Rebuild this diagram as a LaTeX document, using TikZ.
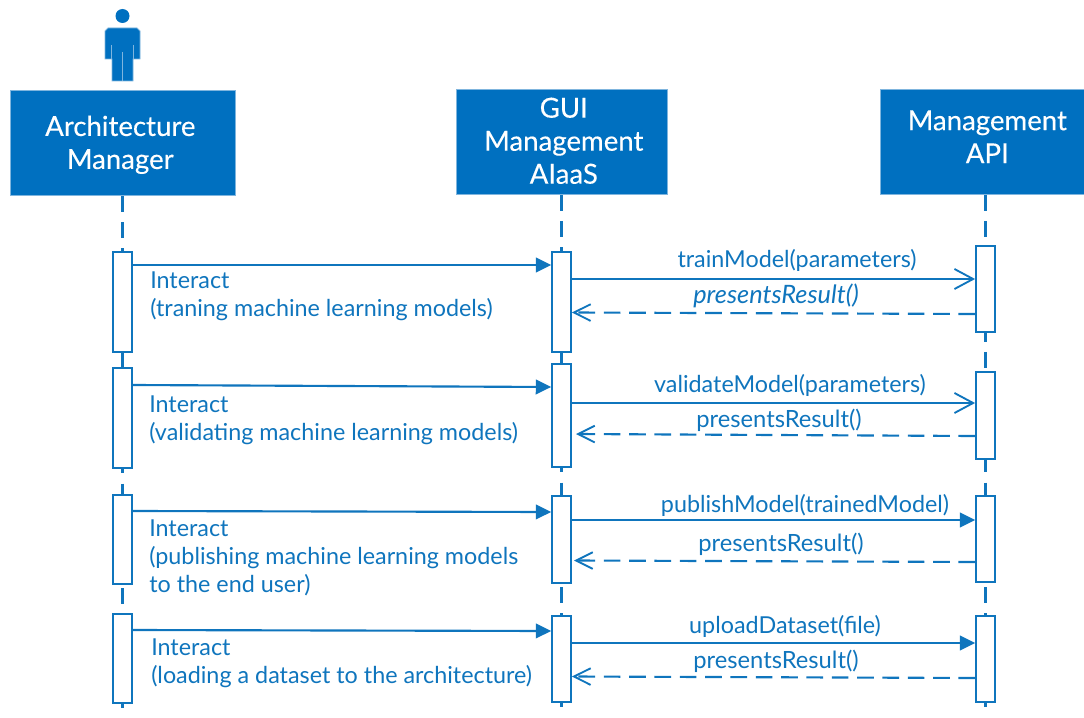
\documentclass[tikz,border=0pt]{standalone}
\usepackage{fontspec}
\setmainfont{Lato}
\usetikzlibrary{arrows.meta}
\definecolor{umlblue}{HTML}{0070C0}
\definecolor{umledge}{HTML}{7FB5DE}
\definecolor{bar}{HTML}{0F75BD}
\tikzset{
  x=0.75pt,y=-0.75pt,
  header/.style={draw=umledge,fill=umlblue,line width=1.2pt,inner sep=0pt,anchor=north west},
  headtext/.style={text=white,align=center,inner sep=0pt,font=\fontsize{20.7}{24.75}\selectfont\addfontfeature{FakeBold=0.25}},
  activation/.style={draw=bar,fill=white,line width=1.6pt,minimum width=14pt,inner sep=0pt,anchor=north},
  lifeline/.style={draw=bar,line width=1.6pt,dash pattern=on 11.8pt off 7.8pt},
  msg/.style={draw=bar,line width=1.6pt},
  openhead/.style={-{Straight Barb[length=14pt,width=15pt,line width=1.4pt]}},
  openback/.style={-{Straight Barb[length=12.5pt,width=12.5pt,line width=1.4pt]},dash pattern=on 12.5pt off 6.5pt},
  solidhead/.style={-{Triangle[length=11.5pt,width=11pt]}},
  msgtext/.style={text=bar,font=\fontsize{17.5}{21}\selectfont,inner sep=0pt,anchor=base},
  restext/.style={text=bar,font=\fontsize{17.8}{21}\selectfont,inner sep=0pt,anchor=base},
  italtext/.style={text=bar,font=\fontsize{19}{21}\selectfont\itshape,inner sep=0pt,anchor=base},
  notetext/.style={text=bar,font=\fontsize{17.5}{21}\selectfont,inner sep=0pt,align=left,anchor=north west},
}
\begin{document}
\begin{tikzpicture}
\useasboundingbox (0,0) rectangle (1084,717);
% headers
\node[header,minimum width=168.75pt,minimum height=78.75pt] (arch) at (9.5,89.5) {};
\node[header,minimum width=158.25pt,minimum height=78.75pt] (gui) at (455.5,88.5) {};
\node[header,minimum width=153pt,minimum height=78.75pt] (api) at (879.5,88.5) {};
\node[headtext] (archT) at ([shift={(-2.5,2)}]arch.center) {Architecture\\Manager};
\node[headtext] (guiT) at ([shift={(2,-1)}]gui.center) {GUI\\Management\\AIaaS};
\node[headtext] (apiT) at ([shift={(5,-5)}]api.center) {Management\\API};
% lifeline ends
\coordinate (archEnd) at (122.5,717);
\coordinate (guiEnd) at (561.5,717);
\coordinate (apiEnd) at (985.5,717);
\draw[lifeline] (arch.south -| archEnd) -- (archEnd);
\draw[lifeline] (gui.south -| guiEnd) -- (guiEnd);
\draw[lifeline] (api.south -| apiEnd) -- (apiEnd);
% person
\fill[umlblue] (122.5,16) circle[radius=7];
\fill[umlblue,draw=umledge,line width=0.6pt] (108,28) -- (137,28) -- (140,31) -- (140,59) -- (133,59) -- (133,81) -- (112,81) -- (112,59) -- (105,59) -- (105,31) -- cycle;
\draw[umledge,line width=1.2pt] (111.5,45) -- (111.5,59) (133.5,45) -- (133.5,59) (122.5,52) -- (122.5,81);
% activations
\node[activation,minimum height=75pt] (a1) at (122.5,251) {};
\node[activation,minimum height=75pt] (a2) at (122.5,367) {};
\node[activation,minimum height=66.75pt] (a3) at (122.5,494) {};
\node[activation,minimum height=66.75pt] (a4) at (122.5,613) {};
\node[activation,minimum height=75pt] (g1) at (561.5,251) {};
\node[activation,minimum height=77.25pt] (g2) at (561.5,363) {};
\node[activation,minimum height=65.25pt] (g3) at (561.5,495) {};
\node[activation,minimum height=64.5pt] (g4) at (561.5,615) {};
\node[activation,minimum height=64.5pt] (p1) at (985.5,245) {};
\node[activation,minimum height=65.25pt] (p2) at (985.5,371) {};
\node[activation,minimum height=64.5pt] (p3) at (985.5,495) {};
\node[activation,minimum height=64.5pt] (p4) at (985.5,615) {};
% manager to GUI
\draw[msg,solidhead] (a1.east |- 0,265) -- (g1.west |- 0,265);
\draw[msg,solidhead] (a2.east |- 0,385) -- (g2.west |- 0,387);
\draw[msg,solidhead] (a3.east |- 0,511) -- (g3.west |- 0,512);
\draw[msg,solidhead] (a4.east |- 0,630) -- (g4.west |- 0,631);
% GUI to API
\draw[msg,openhead] (g1.east |- 0,279) -- (p1.west |- 0,279);
\draw[msg,openhead] (g2.east |- 0,403) -- (p2.west |- 0,403);
\draw[msg,solidhead] (g3.east |- 0,520) -- (p3.west |- 0,520);
\draw[msg,solidhead] (g4.east |- 0,643) -- (p4.west |- 0,643);
% returns
\coordinate (r2) at (576,434);
\coordinate (r3) at (574,560.5);
\draw[msg,openback] (p1.west |- 0,314) -- (g1.east |- 0,312.5);
\draw[msg,openback] (p2.west |- 0,436) -- (r2);
\draw[msg,openback] (p3.west |- 0,562) -- (r3);
\draw[msg,openback] (p4.west |- 0,678) -- (g4.east |- 0,676.5);
% labels
\node[msgtext] (t1) at (797,267.5) {trainModel(parameters)};
\node[italtext] (t2) at (776,303) {presentsResult()};
\node[msgtext] (t3) at (790,392.5) {validateModel(parameters)};
\node[restext] (t4) at (779,427) {presentsResult()};
\node[msgtext] (t5) at (805,512) {publishModel(trainedModel)};
\node[restext] (t6) at (781,551) {presentsResult()};
\node[msgtext] (t7) at (785,633) {uploadDataset(file)};
\node[restext] (t8) at (776,668) {presentsResult()};
\node[notetext] (n1) at (150,272) {Interact\\(traning machine learning models)};
\node[notetext] (n2) at (149,396) {Interact\\(validating machine learning models)};
\node[notetext] (n3) at (149,520) {Interact\\(publishing machine learning models\\to the end user)};
\node[notetext] (n4) at (151,639) {Interact\\(loading a dataset to the architecture)};
\end{tikzpicture}
\end{document}
